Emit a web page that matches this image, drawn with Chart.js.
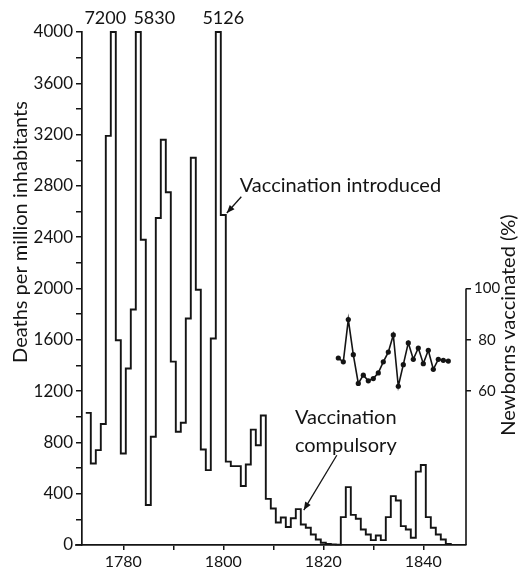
<!DOCTYPE html>
<html>
<head>
<meta charset="utf-8">
<script src="https://cdn.jsdelivr.net/npm/chart.js@4.4.1/dist/chart.umd.min.js"></script>
<style>
html,body{margin:0;padding:0;background:#fff;}
#box{position:relative;width:526px;height:575px;}
</style>
</head>
<body>
<div id="box"><canvas id="chart" width="526" height="575"></canvas></div>
<script>
// ---- data ----
const years = [
  1773,1774,1775,1776,1777,1778,1779,1780,1781,1782,
  1783,1784,1785,1786,1787,1788,1789,1790,1791,1792,
  1793,1794,1795,1796,1797,1798,1799,1800,1801,1802,
  1803,1804,1805,1806,1807,1808,1809,1810,1811,1812,
  1813,1814,1815,1816,1817,1818,1819,1820,1821,1822,
  1823,1824,1825,1826,1827,1828,1829,1830,1831,1832,
  1833,1834,1835,1836,1837,1838,1839,1840,1841,1842,
  1843,1844,1845
];
const deaths = [
  1030, 636, 740, 943,3190,7200,1597, 714,1376,1836,
  5830,2380, 312, 844,2550,3160,2750,1430, 883, 953,
  1766,3020,1990, 745, 584,1610,5126,2573, 650, 615,
   615, 460, 628, 900, 778,1010, 360, 285, 175, 215,
   140, 208, 280, 160, 135,  82,  43,  17,   8,   5,
     3, 217, 451, 235, 205, 121,  82,  38,  74,  38,
   217, 381, 347, 147, 121,  56, 572, 624, 217, 134,
    82,  43,   8
];
const vaccYears = [
  1823,1824,1825,1826,1827,1828,1829,1830,1831,1832,
  1833,1834,1835,1836,1837,1838,1839,1840,1841,1842,
  1843,1844,1845
];
const vaccinated = [
  72.9,71.4,87.9,74.2,63.0,66.2,64.0,64.9,67.1,71.4,
  75.2,81.9,61.9,70.3,78.8,72.4,76.8,70.7,75.9,68.5,
  72.4,72.0,71.7
];
const deathTickLabels = [0,400,800,1200,1600,2000,2400,2800,3200,3600,4000];
const yearTickLabels = [1780,1800,1820,1840];
const vaccTickLabels = [60,80,100];

// ---- styling ----
const INK = '#141414';
const FONT = 'Lato, "Open Sans", "DejaVu Sans", sans-serif';
const Y_MAX = 4000;
Chart.defaults.font.family = FONT;
Chart.defaults.color = INK;

// step outline: each year's bar spans half a year either side of the year
const stepData = years.map((yr, i) => ({ x: yr - 0.5, y: Math.min(deaths[i], Y_MAX) }));
stepData.push({ x: years[years.length - 1] + 0.5, y: 0 });
const vaccData = vaccYears.map((yr, i) => ({ x: yr, y: vaccinated[i] }));

function arrow(ctx, x1, y1, x2, y2) {
  ctx.beginPath(); ctx.moveTo(x1, y1); ctx.lineTo(x2, y2); ctx.stroke();
  const a = Math.atan2(y2 - y1, x2 - x1), L = 8, W = 3.2;
  ctx.beginPath();
  ctx.moveTo(x2, y2);
  ctx.lineTo(x2 - L * Math.cos(a) + W * Math.sin(a), y2 - L * Math.sin(a) - W * Math.cos(a));
  ctx.lineTo(x2 - L * Math.cos(a) - W * Math.sin(a), y2 - L * Math.sin(a) + W * Math.cos(a));
  ctx.closePath(); ctx.fill();
}

const annot = {
  id: 'annot',
  afterDraw(chart) {
    const { ctx, chartArea: ca } = chart;
    const x = chart.scales.x, y = chart.scales.y, y2 = chart.scales.y2;
    ctx.save();
    ctx.strokeStyle = INK; ctx.fillStyle = INK;
    // right axis spine (0 - 100 %)
    ctx.lineWidth = 1.6;
    ctx.beginPath();
    ctx.moveTo(ca.right, y2.getPixelForValue(0));
    ctx.lineTo(ca.right, y2.getPixelForValue(100));
    ctx.stroke();
    // small extension of the baseline left of the y axis
    ctx.beginPath();
    ctx.moveTo(ca.left - 7, ca.bottom); ctx.lineTo(ca.left, ca.bottom); ctx.stroke();

    // labels of clipped peaks
    const shifts = [-8, 16, 5];
    let k = 0;
    ctx.font = '18px ' + FONT;
    ctx.textAlign = 'center'; ctx.textBaseline = 'middle';
    years.forEach((yr, i) => {
      if (deaths[i] > Y_MAX) {
        ctx.fillText(String(deaths[i]), x.getPixelForValue(yr) + (shifts[k++] || 0), ca.top - 14);
      }
    });

    // axis titles
    ctx.font = '20px ' + FONT;
    ctx.save();
    ctx.translate(21, 232); ctx.rotate(-Math.PI / 2);
    ctx.fillText('Deaths per million inhabitants', 0, 0);
    ctx.restore();
    ctx.save();
    ctx.translate(509, 325); ctx.rotate(-Math.PI / 2);
    ctx.fillText('Newborns vaccinated (%)', 0, 0);
    ctx.restore();

    // annotations
    ctx.font = '20px ' + FONT;
    ctx.lineWidth = 1.3;
    const i1 = years.indexOf(1800);
    const tip1x = x.getPixelForValue(1800.5) + 1, tip1y = y.getPixelForValue(deaths[i1]) - 2;
    ctx.textAlign = 'left';
    ctx.fillText('Vaccination introduced', x.getPixelForValue(1803.3), y.getPixelForValue(2800));
    arrow(ctx, x.getPixelForValue(1803.6), y.getPixelForValue(2715), tip1x, tip1y);

    const i2 = years.indexOf(1815);
    const tip2x = x.getPixelForValue(1815.5) + 3, tip2y = y.getPixelForValue(deaths[i2]) + 1;
    ctx.textAlign = 'center';
    ctx.fillText('Vaccination', x.getPixelForValue(1824.5), y.getPixelForValue(995));
    ctx.fillText('compulsory', x.getPixelForValue(1824.5), y.getPixelForValue(775));
    arrow(ctx, x.getPixelForValue(1822.7), y.getPixelForValue(700), tip2x, tip2y);
    ctx.restore();
  }
};

new Chart(document.getElementById('chart'), {
  type: 'line',
  data: {
    datasets: [
      { data: stepData, yAxisID: 'y', stepped: true, borderColor: INK, borderWidth: 1.9,
        pointRadius: 0, fill: false, clip: 4 },
      { data: vaccData, yAxisID: 'y2', borderColor: INK, borderWidth: 1.6, tension: 0,
        pointRadius: 2.6, pointBackgroundColor: INK, pointBorderWidth: 0, fill: false }
    ]
  },
  options: {
    responsive: false,
    animation: false,
    events: [],
    layout: { padding: { top: 32, left: 0, right: 0, bottom: 0 } },
    plugins: { legend: { display: false }, tooltip: { enabled: false } },
    scales: {
      x: {
        type: 'linear', position: 'bottom', min: 1771.74, max: 1848.54,
        border: { color: INK, width: 1.7 },
        grid: { drawOnChartArea: false, drawTicks: true, tickLength: 5, color: INK, lineWidth: 1.5 },
        ticks: { font: { size: 16 }, color: INK, padding: 2, maxRotation: 0, autoSkip: false,
                 callback: v => yearTickLabels.includes(v) ? String(v) : '' },
        afterBuildTicks: s => {
          const t = [];
          for (let v = yearTickLabels[0]; v <= yearTickLabels[yearTickLabels.length - 1]; v += 10) t.push({ value: v });
          s.ticks = t;
        },
        afterFit: s => { s.height = 30; }
      },
      y: {
        position: 'left', min: 0, max: Y_MAX,
        border: { color: INK, width: 1.7 },
        grid: { drawOnChartArea: false, drawTicks: true, tickLength: 6, color: INK, lineWidth: 1.5 },
        ticks: { font: { size: 17 }, color: INK, padding: 3, autoSkip: false,
                 callback: v => deathTickLabels.includes(v) ? String(v) : '' },
        afterBuildTicks: s => {
          const t = [];
          for (let v = 0; v <= Y_MAX; v += 200) t.push({ value: v });
          s.ticks = t;
        },
        afterFit: s => { s.width = 82; }
      },
      y2: {
        position: 'right', min: 0, max: 200,
        border: { display: false },
        grid: { drawOnChartArea: false, drawTicks: true, tickLength: 5, color: INK, lineWidth: 1.5 },
        ticks: { font: { size: 15 }, color: INK, padding: 3, crossAlign: 'center', autoSkip: false,
                 callback: v => String(v) },
        afterBuildTicks: s => { s.ticks = vaccTickLabels.map(v => ({ value: v })); },
        afterFit: s => { s.width = 60; }
      }
    }
  },
  plugins: [annot]
});
</script>
</body>
</html>
